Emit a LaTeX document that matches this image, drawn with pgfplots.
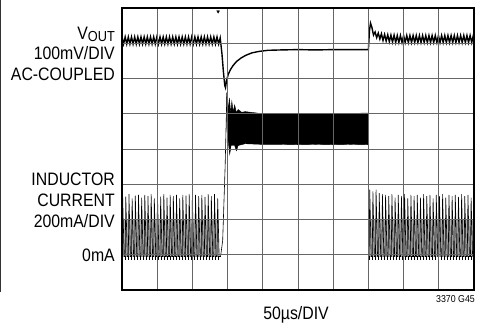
\documentclass[border=0pt]{standalone}
\usepackage{fontspec}
\setmainfont{Liberation Sans}[FakeStretch=0.88]
\usepackage{pgfplots}
\pgfplotsset{compat=1.18}
\begin{document}
\begin{tikzpicture}[x=1pt,y=1pt]
\useasboundingbox (0,0) rectangle (483,324);
\begin{axis}[
  at={(122pt,34pt)}, anchor=south west,
  scale only axis, width=352pt, height=282pt,
  xmin=0, xmax=10, ymin=0, ymax=8,
  xtick={0,...,10}, ytick={0,...,8},
  xticklabels={}, yticklabels={},
  major tick length=0pt,
  grid=major, major grid style={draw=black!60, line width=0.9pt},
  axis line style={line width=1.4pt},
  axis on top,
  clip=true,
]
% grey ringing region of inductor current (before / after)
\addplot[draw=none, fill=black!30] coordinates {(0,0.95)(0,2.0)(2.76,2.0)(2.76,0.95)} -- cycle;
\addplot[draw=none, fill=black!30] coordinates {(7.02,0.95)(7.02,2.0)(10,2.0)(10,0.95)} -- cycle;
% VOUT trace
\addplot[black, line width=1.4pt] coordinates {
(0,7.18)(0.045,6.98)(0.09,7.18)(0.135,6.98)(0.18,7.18)(0.225,6.98)(0.27,7.18)(0.315,6.98)(0.36,7.18)(0.405,6.98)(0.45,7.18)(0.495,6.98)(0.54,7.18)(0.585,6.98)(0.63,7.18)(0.675,6.98)(0.72,7.18)(0.765,6.98)(0.81,7.18)(0.855,6.98)(0.9,7.18)(0.945,6.98)(0.99,7.18)(1.035,6.98)(1.08,7.18)(1.125,6.98)(1.17,7.18)(1.215,6.98)(1.26,7.18)(1.305,6.98)(1.35,7.18)(1.395,6.98)(1.44,7.18)(1.485,6.98)(1.53,7.18)(1.575,6.98)(1.62,7.18)(1.665,6.98)(1.71,7.18)(1.755,6.98)(1.8,7.18)(1.845,6.98)(1.89,7.18)(1.935,6.98)(1.98,7.18)(2.025,6.98)(2.07,7.18)(2.115,6.98)(2.16,7.18)(2.205,6.98)(2.25,7.18)(2.295,6.98)(2.34,7.18)(2.385,6.98)(2.43,7.18)(2.475,6.98)(2.52,7.18)(2.565,6.98)(2.61,7.18)(2.655,6.98)(2.7,7.18)(2.745,6.98)(2.79,7.15)
(2.84,6.7)(2.88,6.2)(2.92,5.8)(2.94,5.74)(2.97,5.95)(3.02,6.12)(3.08,6.25)(3.15,6.36)(3.25,6.48)(3.38,6.58)(3.52,6.66)(3.7,6.73)(3.9,6.77)(4.15,6.8)(4.5,6.81)(5.0,6.82)(5.5,6.81)(6.0,6.82)(6.5,6.82)(7.0,6.82)(7.03,7.35)(7.06,7.57)(7.1,7.45)
(7.145,7.23)(7.19,7.32)(7.235,7.16)(7.28,7.29)(7.325,7.12)(7.37,7.27)(7.415,7.08)(7.46,7.25)(7.505,7.06)(7.55,7.24)(7.595,7.04)(7.64,7.23)(7.685,7.03)(7.73,7.23)(7.775,7.02)(7.82,7.22)(7.865,7.02)(7.91,7.22)(7.955,7.02)(8.0,7.22)(8.045,7.02)(8.09,7.22)(8.135,7.02)(8.18,7.22)(8.225,7.02)(8.27,7.22)(8.315,7.02)(8.36,7.22)(8.405,7.02)(8.45,7.22)(8.495,7.02)(8.54,7.22)(8.585,7.02)(8.63,7.22)(8.675,7.02)(8.72,7.22)(8.765,7.02)(8.81,7.22)(8.855,7.02)(8.9,7.22)(8.945,7.02)(8.99,7.22)(9.035,7.02)(9.08,7.22)(9.125,7.02)(9.17,7.22)(9.215,7.02)(9.26,7.22)(9.305,7.02)(9.35,7.22)(9.395,7.02)(9.44,7.22)(9.485,7.02)(9.53,7.22)(9.575,7.02)(9.62,7.22)(9.665,7.02)(9.71,7.22)(9.755,7.02)(9.8,7.22)(9.845,7.02)(9.89,7.22)(9.935,7.02)(9.98,7.22)(10.0,7.1)
};
% trigger marker
\addplot[only marks, mark=triangle*, mark size=1.6pt, mark options={rotate=180, black}] coordinates {(2.73,7.9)};
% zero-current ringing band
\addplot[black, line width=4pt, dash pattern=on 1pt off 2pt] coordinates {(0,0.92)(2.78,0.92)};
\addplot[black, line width=4pt, dash pattern=on 1pt off 2pt] coordinates {(7.02,0.92)(10,0.92)};
% inductor current before step (DCM)
\addplot[black, line width=0.6pt] coordinates {
(0,0.95)(0.018,2.7)(0.06,0.95)
(0.09,0.95)(0.108,2.65)(0.15,0.95)
(0.18,0.95)(0.198,2.72)(0.24,0.95)
(0.27,0.95)(0.288,2.6)(0.33,0.95)
(0.36,0.95)(0.378,2.68)(0.42,0.95)
(0.45,0.95)(0.468,2.7)(0.51,0.95)
(0.54,0.95)(0.558,2.62)(0.60,0.95)
(0.63,0.95)(0.648,2.7)(0.69,0.95)
(0.72,0.95)(0.738,2.66)(0.78,0.95)
(0.81,0.95)(0.828,2.72)(0.87,0.95)
(0.90,0.95)(0.918,2.6)(0.96,0.95)
(0.99,0.95)(1.008,2.7)(1.05,0.95)
(1.08,0.95)(1.098,2.65)(1.14,0.95)
(1.17,0.95)(1.188,2.72)(1.23,0.95)
(1.26,0.95)(1.278,2.62)(1.32,0.95)
(1.35,0.95)(1.368,2.7)(1.41,0.95)
(1.44,0.95)(1.458,2.66)(1.50,0.95)
(1.53,0.95)(1.548,2.7)(1.59,0.95)
(1.62,0.95)(1.638,2.6)(1.68,0.95)
(1.71,0.95)(1.728,2.7)(1.77,0.95)
(1.80,0.95)(1.818,2.68)(1.86,0.95)
(1.89,0.95)(1.908,2.72)(1.95,0.95)
(1.98,0.95)(1.998,2.62)(2.04,0.95)
(2.07,0.95)(2.088,2.7)(2.13,0.95)
(2.16,0.95)(2.178,2.66)(2.22,0.95)
(2.25,0.95)(2.268,2.7)(2.31,0.95)
(2.34,0.95)(2.358,2.64)(2.40,0.95)
(2.43,0.95)(2.448,2.72)(2.49,0.95)
(2.52,0.95)(2.538,2.66)(2.58,0.95)
(2.61,0.95)(2.628,2.72)(2.67,0.95)
(2.70,0.95)(2.718,2.6)(2.76,0.95)
(2.80,0.95)(2.86,1.4)(2.93,3.5)(2.98,5.6)
};
% inductor current during load step (dense switching band)
\addplot[black, fill=black, line width=0.4pt] coordinates {
(2.98,5.6)(3.02,5.1)(3.05,5.45)(3.09,5.0)(3.12,5.35)(3.16,5.05)(3.2,5.25)(3.25,5.03)(3.3,5.12)(3.4,5.04)(3.5,5.06)(4.0,5.0)(4.5,5.01)(5.0,5.0)(5.5,5.0)(6.0,5.0)(6.5,5.01)(7.0,5.02)
(7.0,4.12)(6.5,4.13)(6.0,4.12)(5.5,4.13)(5.0,4.12)(4.5,4.13)(4.0,4.13)(3.5,4.15)(3.3,4.1)(3.25,3.95)(3.2,4.1)(3.1,4.1)(3.06,3.85)(3.02,4.2)(2.98,4.6)
} -- cycle;
% inductor current after step (DCM)
\addplot[black, line width=0.6pt] coordinates {
(7.0,4.12)(7.0,0.95)
(7.02,0.95)(7.038,2.85)(7.08,0.95)
(7.11,0.95)(7.128,2.8)(7.17,0.95)
(7.20,0.95)(7.218,2.85)(7.26,0.95)
(7.29,0.95)(7.308,2.75)(7.35,0.95)
(7.38,0.95)(7.398,2.72)(7.44,0.95)
(7.47,0.95)(7.488,2.7)(7.53,0.95)
(7.56,0.95)(7.578,2.66)(7.62,0.95)
(7.65,0.95)(7.668,2.72)(7.71,0.95)
(7.74,0.95)(7.758,2.62)(7.80,0.95)
(7.83,0.95)(7.848,2.7)(7.89,0.95)
(7.92,0.95)(7.938,2.66)(7.98,0.95)
(8.01,0.95)(8.028,2.72)(8.07,0.95)
(8.10,0.95)(8.118,2.6)(8.16,0.95)
(8.19,0.95)(8.208,2.7)(8.25,0.95)
(8.28,0.95)(8.298,2.66)(8.34,0.95)
(8.37,0.95)(8.388,2.7)(8.43,0.95)
(8.46,0.95)(8.478,2.62)(8.52,0.95)
(8.55,0.95)(8.568,2.72)(8.61,0.95)
(8.64,0.95)(8.658,2.66)(8.70,0.95)
(8.73,0.95)(8.748,2.7)(8.79,0.95)
(8.82,0.95)(8.838,2.6)(8.88,0.95)
(8.91,0.95)(8.928,2.7)(8.97,0.95)
(9.00,0.95)(9.018,2.66)(9.06,0.95)
(9.09,0.95)(9.108,2.72)(9.15,0.95)
(9.18,0.95)(9.198,2.62)(9.24,0.95)
(9.27,0.95)(9.288,2.7)(9.33,0.95)
(9.36,0.95)(9.378,2.66)(9.42,0.95)
(9.45,0.95)(9.468,2.7)(9.51,0.95)
(9.54,0.95)(9.558,2.64)(9.60,0.95)
(9.63,0.95)(9.648,2.72)(9.69,0.95)
(9.72,0.95)(9.738,2.66)(9.78,0.95)
(9.81,0.95)(9.828,2.7)(9.87,0.95)
(9.90,0.95)(9.918,2.62)(9.96,0.95)
};
\end{axis}
% left crop edge line
\draw[line width=1pt, black!80] (0.5,324) -- (0.5,32);
% labels
\node[anchor=base east, inner sep=0pt, font=\fontsize{18}{18}\selectfont] at (115,284) {V\raisebox{-2pt}{\fontsize{14.5}{14.5}\selectfont OUT}};
\node[anchor=base east, inner sep=0pt, font=\fontsize{18}{18}\selectfont] at (115,264) {100mV/DIV};
\node[anchor=base east, inner sep=0pt, font=\fontsize{18}{18}\selectfont] at (115,243) {AC-COUPLED};
\node[anchor=base east, inner sep=0pt, font=\fontsize{18}{18}\selectfont] at (115,138) {INDUCTOR};
\node[anchor=base east, inner sep=0pt, font=\fontsize{18}{18}\selectfont] at (115,117) {CURRENT};
\node[anchor=base east, inner sep=0pt, font=\fontsize{18}{18}\selectfont] at (115,96) {200mA/DIV};
\node[anchor=base east, inner sep=0pt, font=\fontsize{18}{18}\selectfont] at (115,62) {0mA};
\node[anchor=base, inner sep=0pt, font=\fontsize{18}{18}\selectfont] at (296,4) {50µs/DIV};
\node[anchor=base east, inner sep=0pt, font=\fontsize{10}{10}\selectfont] at (475,21) {3370 G45};
\end{tikzpicture}
\end{document}
